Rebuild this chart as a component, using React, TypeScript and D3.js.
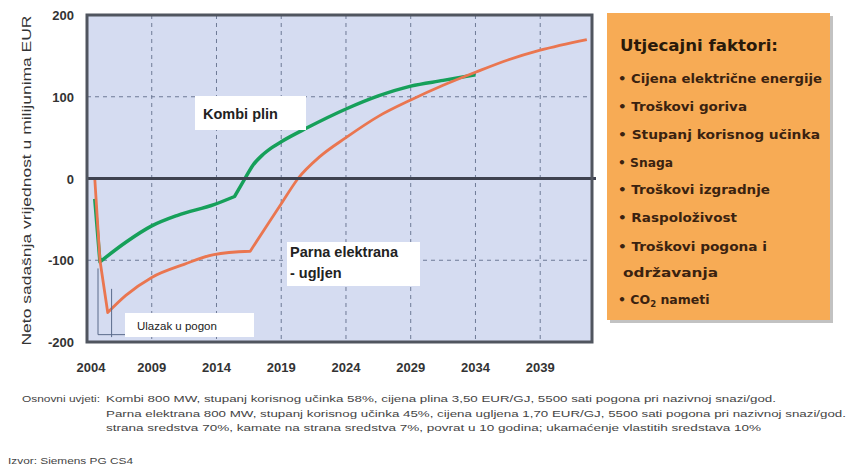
import React from "react";
import * as d3 from "d3";

const gasYears = [2004.6, 2005.0, 2007, 2009, 2011, 2013.8, 2015.4, 2016.2, 2016.8, 2017.5, 2018.3, 2019, 2021, 2024, 2026.5, 2029, 2031.5, 2034];
const gasValues = [-25, -102, -78, -58, -45, -32, -22, 0, 16, 28, 38, 45, 62, 85, 101, 113, 120, 127];
const gasBreaks = [2005.0, 2015.4];

const coalYears = [2004.6, 2005.0, 2005.6, 2007, 2009, 2011.5, 2013.8, 2016.6, 2018, 2019, 2020.3, 2022, 2024, 2026.5, 2029, 2031.5, 2034, 2036.5, 2039, 2042.6];
const coalValues = [0, -100, -164, -143, -121, -105, -93, -89, -55, -31, 0, 27, 50, 76, 96, 114, 130, 145, 157, 170];
const coalBreaks = [2005.0, 2005.6, 2016.6];

const xTicks = [2004, 2009, 2014, 2019, 2024, 2029, 2034, 2039];
const yTicks = [200, 100, 0, -100, -200];

const factorTitle = "Utjecajni faktori:";
const factors = [
  "• Cijena električne energije",
  "• Troškovi goriva",
  "• Stupanj korisnog učinka",
  "• Snaga",
  "• Troškovi izgradnje",
  "• Raspoloživost",
  "• Troškovi pogona i",
  "  održavanja",
];

const notesLabel = "Osnovni uvjeti:";
const notes = [
  "Kombi 800 MW, stupanj korisnog učinka 58%, cijena plina 3,50 EUR/GJ, 5500 sati pogona pri nazivnoj snazi/god.",
  "Parna elektrana 800 MW, stupanj korisnog učinka 45%, cijena ugljena 1,70 EUR/GJ, 5500 sati pogona pri nazivnoj snazi/god.",
  "strana sredstva 70%, kamate na strana sredstva 7%, povrat u 10 godina; ukamaćenje vlastitih sredstava 10%",
];
const source = "Izvor: Siemens PG CS4";

function segmentedPath(
  years: number[],
  values: number[],
  breaks: number[],
  x: d3.ScaleLinear<number, number>,
  y: d3.ScaleLinear<number, number>
) {
  const pts: [number, number][] = years.map((yr, i) => [yr, values[i]]);
  const segs: [number, number][][] = [];
  let cur: [number, number][] = [];
  pts.forEach(p => {
    cur.push(p);
    if (breaks.includes(p[0])) {
      segs.push(cur);
      cur = [p];
    }
  });
  if (cur.length > 1) segs.push(cur);
  const gen = d3.line<[number, number]>().x(d => x(d[0])).y(d => y(d[1]));
  return segs
    .map(s => gen.curve(s.length > 2 ? d3.curveMonotoneX : d3.curveLinear)(s) || "")
    .map((d, i) => (i === 0 ? d : d.replace(/^M/, "L")))
    .join("");
}

export default function App() {
  const W = 852, H = 467;
  const left = 87, right = 592, top = 15, bottom = 342;
  const x = d3.scaleLinear().domain([2004, 2043]).range([left, right]);
  const y = d3.scaleLinear().domain([-200, 200]).range([bottom, top]);
  const gasPath = segmentedPath(gasYears, gasValues, gasBreaks, x, y);
  const coalPath = segmentedPath(coalYears, coalValues, coalBreaks, x, y);
  const font = "Liberation Sans, Arial, sans-serif";
  const boxFont = "DejaVu Sans, Verdana, sans-serif";
  const noteW = [670, 740, 655];
  const factorY = [79, 107, 135, 163, 190, 218, 247, 273];
  const factorW = [204, 129, 202, 55, 152, 119, 149, 100];

  return (
    <svg width={W} height={H} style={{ position: "absolute", left: 0, top: 0, background: "#fff" }} fontFamily={font}>
      <defs>
        <clipPath id="plotclip"><rect x={left} y={top} width={right - left} height={bottom - top} /></clipPath>
      </defs>
      <rect x={left} y={top} width={right - left} height={bottom - top} fill="#d5dcf1" />
      {xTicks.slice(1).map(t => (
        <line key={t} x1={x(t)} x2={x(t)} y1={top} y2={bottom} stroke="#6e7a96" strokeWidth={1} strokeDasharray="4,4" />
      ))}
      {[100, -100].map(t => (
        <line key={t} x1={left} x2={right} y1={y(t)} y2={y(t)} stroke="#6e7a96" strokeWidth={1} strokeDasharray="4,4" />
      ))}
      <g clipPath="url(#plotclip)">
        <path d={gasPath} fill="none" stroke="#16a05a" strokeWidth={3.5} strokeLinejoin="round" />
        <path d={coalPath} fill="none" stroke="#ea7650" strokeWidth={2.8} strokeLinejoin="round" />
      </g>
      <line x1={left} x2={right + 4} y1={y(0)} y2={y(0)} stroke="#3e4250" strokeWidth={3} />
      <rect x={left} y={top} width={right - left} height={bottom - top} fill="none" stroke="#50555f" strokeWidth={3} />

      {/* Ulazak u pogon bracket */}
      <line x1={x(2004.85)} x2={x(2004.85)} y1={y(-110)} y2={y(-191)} stroke="#5a6a8a" strokeWidth={1} />
      <line x1={x(2005.9)} x2={x(2005.9)} y1={y(-135)} y2={y(-194)} stroke="#5a6a8a" strokeWidth={1} />
      <line x1={x(2004.85)} x2={x(2007)} y1={y(-191)} y2={y(-191)} stroke="#5a6a8a" strokeWidth={1} />
      <rect x={125} y={313} width={129} height={24} fill="#fff" />
      <text x={137} y={330} fontSize={11.5} fill="#222">Ulazak u pogon</text>

      <rect x={195} y={96} width={111} height={34} fill="#fff" />
      <text x={203} y={119} fontSize={14.5} fontWeight="bold" fill="#222">Kombi plin</text>

      <rect x={287} y={242} width={133} height={44} fill="#fff" />
      <text x={290} y={257} fontSize={14.5} fontWeight="bold" fill="#222">Parna elektrana</text>
      <text x={290} y={278} fontSize={14.5} fontWeight="bold" fill="#222">- ugljen</text>

      {yTicks.map(t => (
        <text key={t} x={74} y={y(t) + 5} textAnchor="end" fontSize={13} fontWeight="bold" fill="#333">{t}</text>
      ))}
      {xTicks.map(t => (
        <text key={t} x={x(t) + (t === 2004 ? 4 : 0)} y={372} textAnchor="middle" fontSize={13} fontWeight="bold" fill="#333">{t}</text>
      ))}
      <text transform={`translate(31,${(top + bottom) / 2 + 2}) rotate(-90)`} textAnchor="middle" fontSize={13} fill="#333"
        textLength={330} lengthAdjust="spacingAndGlyphs">
        Neto sadašnja vrijednost u milijunima EUR
      </text>

      {/* factor box */}
      <rect x={610} y={16} width={223} height={307} fill="#9a9a9a" opacity={0.6} />
      <rect x={607} y={13} width={223} height={307} fill="#f7ab55" />
      <text x={620} y={51} fontSize={16} fontWeight="bold" fill="#2a1a0a" fontFamily={boxFont}
        textLength={158} lengthAdjust="spacingAndGlyphs">{factorTitle}</text>
      {factors.map((f, i) => (
        <text key={i} x={i === 7 ? 623 : 618} y={factorY[i] + 4} fontSize={11.5} fontWeight="bold" fill="#3a2210"
          fontFamily={boxFont} textLength={i === 7 ? factorW[i] - 5 : factorW[i]} lengthAdjust="spacingAndGlyphs">
          {i === 7 ? f.trim() : f}
        </text>
      ))}
      <text x={618} y={304} fontSize={12.5} fontWeight="bold" fill="#3a2210" fontFamily={boxFont}>
        • CO<tspan fontSize={8.5} dy={3}>2</tspan><tspan dy={-3}> nameti</tspan>
      </text>

      {/* notes */}
      <text x={22} y={402} fontSize={9.5} fill="#444" textLength={78} lengthAdjust="spacingAndGlyphs">{notesLabel}</text>
      {notes.map((n, i) => (
        <text key={i} x={106} y={402 + i * 14.5} fontSize={9.5} fill="#444" textLength={noteW[i]} lengthAdjust="spacingAndGlyphs">{n}</text>
      ))}
      <text x={8} y={464} fontSize={9.5} fill="#444" textLength={125} lengthAdjust="spacingAndGlyphs">{source}</text>
    </svg>
  );
}
